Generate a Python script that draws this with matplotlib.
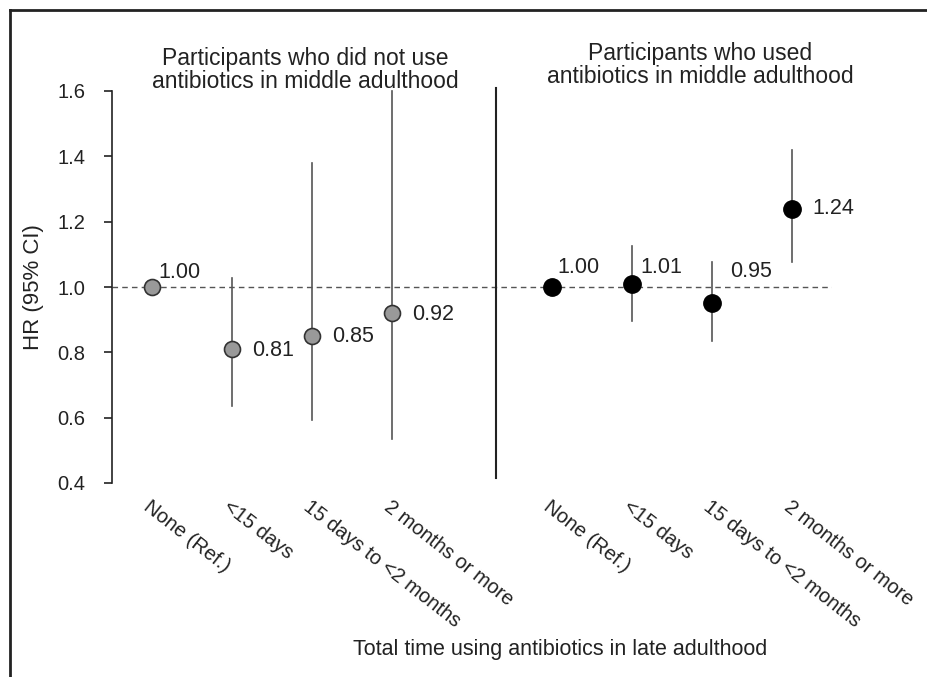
import matplotlib.pyplot as plt
from matplotlib.lines import Line2D

plt.rcParams['font.family'] = ['Liberation Sans', 'DejaVu Sans']

categories = ['None (Ref.)', '<15 days', '15 days to <2 months', '2 months or more']

# participants who did not use antibiotics in middle adulthood
hr_no = [1.00, 0.81, 0.85, 0.92]
lo_no = [None, 0.636, 0.593, 0.535]
hi_no = [None, 1.028, 1.38, 1.60]

# participants who used antibiotics in middle adulthood
hr_yes = [1.00, 1.01, 0.95, 1.24]
lo_yes = [None, 0.896, 0.835, 1.077]
hi_yes = [None, 1.125, 1.077, 1.42]

hr_labels_no = ['1.00', '0.81', '0.85', '0.92']
hr_labels_yes = ['1.00', '1.01', '0.95', '1.24']

x_no = [0, 1, 2, 3]
x_yes = [5, 6, 7, 8]

fig = plt.figure(figsize=(9.27, 6.77), dpi=100)
ax = fig.add_axes([112 / 927, 1 - 483 / 677, 720 / 927, 392 / 677])

# frame around the figure (cut off on right and bottom)
fig.add_artist(Line2D([10 / 927, 10 / 927], [0, 1 - 10 / 677], transform=fig.transFigure,
                      color='#222222', lw=2))
fig.add_artist(Line2D([10 / 927, 1], [1 - 10 / 677, 1 - 10 / 677], transform=fig.transFigure,
                      color='#222222', lw=2))

ax.axhline(1.0, color='#555555', lw=1, ls=(0, (4, 3)), zorder=1)

for xs, lo, hi in [(x_no, lo_no, hi_no), (x_yes, lo_yes, hi_yes)]:
    for x, l, h in zip(xs, lo, hi):
        if l is not None:
            ax.plot([x, x], [l, h], color='#555555', lw=1.2, zorder=2, clip_on=False)

ax.plot(x_no, hr_no, 'o', ms=11.5, mfc='#999999', mec='#333333', mew=1.2, zorder=3)
ax.plot(x_yes, hr_yes, 'o', ms=12.5, mfc='black', mec='black', zorder=3)

# value labels
off_no = [(0.08, 0.043), (0.25, -0.003), (0.25, -0.003), (0.25, -0.003)]
off_yes = [(0.07, 0.061), (0.11, 0.051), (0.23, 0.096), (0.25, 0.0)]
for xs, ys, labs, offs in [(x_no, hr_no, hr_labels_no, off_no),
                           (x_yes, hr_yes, hr_labels_yes, off_yes)]:
    for x, y, t, (dx, dy) in zip(xs, ys, labs, offs):
        ax.text(x + dx, y + dy, t, fontsize=15.5, color='#222222', va='center', ha='left')

# separator between the two groups
ax.plot([4.3, 4.3], [0.415, 1.61], color='#222222', lw=1.5, clip_on=False)

ax.set_xlim(-0.5, 8.5)
ax.set_ylim(0.4, 1.6)
ax.set_yticks([0.4, 0.6, 0.8, 1.0, 1.2, 1.4, 1.6])
ax.set_yticklabels(['0.4', '0.6', '0.8', '1.0', '1.2', '1.4', '1.6'])
ax.set_xticks(x_no + x_yes)
ax.set_xticklabels(categories + categories, rotation=-38, ha='left', va='top',
                   rotation_mode='anchor', fontsize=14.5, color='#222222')
ax.tick_params(axis='x', length=0, pad=10)
ax.tick_params(axis='y', labelsize=14.5, length=6, width=1.2, pad=13, colors='#222222')
for s in ['top', 'right', 'bottom']:
    ax.spines[s].set_visible(False)
ax.spines['left'].set_linewidth(1.2)
ax.spines['left'].set_color('#222222')
ax.set_ylabel('HR (95% CI)', fontsize=16, labelpad=10, color='#222222')

fig.text(305 / 927, 1 - 70 / 677, 'Participants who did not use\nantibiotics in middle adulthood',
         ha='center', va='center', fontsize=16.5, color='#222222', linespacing=1.05)
fig.text(700 / 927, 1 - 65 / 677, 'Participants who used\nantibiotics in middle adulthood',
         ha='center', va='center', fontsize=16.5, color='#222222', linespacing=1.05)
fig.text(560 / 927, 1 - 650 / 677, 'Total time using antibiotics in late adulthood',
         ha='center', va='center', fontsize=15.5, color='#222222')

fig.savefig('out.png', dpi=100)
